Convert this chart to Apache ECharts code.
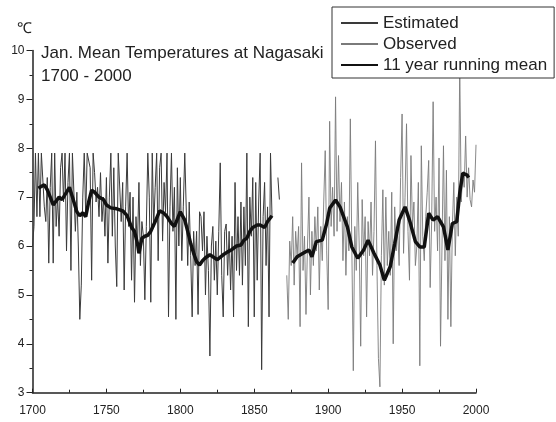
<!DOCTYPE html>
<html><head><meta charset="utf-8">
<script src="https://cdn.jsdelivr.net/npm/echarts@6/dist/echarts.min.js"></script>
<style>html,body{margin:0;padding:0;background:#fff}#c{width:556px;height:422px}</style>
</head><body><div id="c"></div>
<script>
// Estimated January means (annual), 1700-1867 (null = no value)
const estimatedStart = 1700;
const estimated = [
  6.0, 6.4, 7.9, 6.6, 7.9, 6.6, 7.9, 7.9, 6.8, 6.5,
  7.4, 5.65, 7.2, 7.9, 5.65, 7.9, 6.4, 7.0, 6.2, 7.6,
  7.9, 6.9, 7.9, 5.9, 7.3, 7.9, 5.5, 7.9, 7.9, 6.3,
  7.1, 6.0, 4.5, 5.2, 7.0, 7.9, 6.6, 7.9, 7.9, 7.6,
  5.3, 7.9, 7.5, 6.9, 7.2, 6.6, 7.5, 6.5, 7.0, 6.2,
  7.4, 5.65, 7.0, 7.9, 6.2, 7.6, 6.0, 5.17, 7.9, 7.9,
  6.5, 7.3, 5.1, 6.8, 7.9, 6.4, 7.1, 5.3, 7.0, 4.85,
  6.6, 6.0, 7.3, 5.6, 6.5, 6.2, 4.9, 6.4, 7.9, 7.0,
  4.85, 7.9, 6.4, 7.2, 7.9, 5.7, 7.6, 7.9, 6.1, 7.3,
  6.7, 7.9, 4.55, 6.8, 7.9, 6.3, 7.2, 4.5, 7.6, 6.0,
  7.4, 5.7, 6.8, 7.9, 7.9, 5.6, 6.9, 5.8, 4.55, 6.3,
  5.6, 6.3, 4.6, 6.7, 6.6, 5.9, 6.7, 5.0, 6.2, 5.5,
  3.75, 6.0, 6.4, 5.3, 6.1, 5.0, 6.3, 7.7, 5.4, 4.55,
  6.3, 6.45, 5.4, 6.3, 5.1, 6.2, 4.55, 7.3, 5.5, 6.6,
  5.4, 6.9, 5.2, 6.8, 5.6, 7.9, 4.35, 7.0, 6.2, 7.4,
  4.55, 7.3, 5.3, 6.9, 7.9, 3.47, 6.6, 7.3, 5.6, 6.8,
  4.55, 7.9, 6.6, null, null, null, 7.4, 6.95
];
// Observed January means (annual), 1872-2000
const observedStart = 1872;
const observed = [
  5.4, 4.5, 6.1, 5.6, 6.6, 5.2, 6.3, 5.8,
  6.4, 4.35, 7.7, 5.5, 6.2, 4.6, 6.0, 7.0, 5.0, 6.3,
  5.6, 6.6, 5.9, 6.8, 5.1, 6.4, 5.7, 6.9, 7.95, 5.9,
  4.7, 8.55, 6.4, 7.2, 6.2, 9.05, 6.3, 7.85, 6.5, 7.3,
  5.7, 6.9, 5.4, 6.6, 5.9, 8.6, 6.0, 3.45, 6.4, 5.5,
  7.3, 6.0, 3.95, 6.95, 5.8, 6.6, 4.55, 6.5, 5.8, 6.9,
  5.4, 6.3, 8.15, 5.6, 3.7, 3.12, 5.8, 7.15, 5.2, 7.0,
  5.6, 6.3, 5.4, 7.1, 4.0, 6.8, 5.9, 6.3, 5.6, 7.4,
  8.7, 5.85, 7.0, 8.5, 6.3, 5.3, 7.85, 6.4, 6.9, 5.6,
  6.0, 7.3, 3.55, 8.05, 6.2, 5.7, 6.6, 7.1, 7.75, 5.15,
  6.5, 8.95, 6.3, 7.0, 5.9, 7.8, 3.95, 6.0, 8.05, 5.7,
  7.55, 4.5, 6.6, 4.35, 6.4, 7.3, 5.8, 7.0, 6.2, 9.7,
  6.9, 7.5, 7.2, 8.25, 7.0, 7.6, 6.95, 6.8, 7.35, 7.1, 8.07
];
// 11 year running mean
const meanEstYears = [1704,1706,1708,1710,1712,1714,1716,1718,1720,1722,1725,1727,1730,1732,1734,1736,1738,1740,1742,1745,1748,1750,1753,1757,1761,1764,1767,1769,1771,1772,1773,1774,1776,1778,1780,1783,1786,1789,1791,1794,1796,1798,1800,1803,1805,1807,1809,1811,1813,1815,1817,1820,1822,1825,1829,1832,1835,1838,1841,1843,1845,1847,1849,1852,1854,1857,1859,1862];
const meanEstValues = [7.18,7.22,7.25,7.15,7.0,6.84,6.92,7.0,6.95,7.05,7.2,7.0,6.7,6.62,6.68,6.6,6.9,7.14,7.1,7.0,6.95,6.84,6.78,6.76,6.72,6.62,6.38,6.3,6.05,5.85,5.85,6.16,6.2,6.22,6.3,6.5,6.72,6.67,6.6,6.46,6.4,6.55,6.7,6.53,6.3,6.05,5.85,5.68,5.61,5.7,5.76,5.82,5.78,5.72,5.82,5.88,5.93,6.0,6.02,6.12,6.16,6.3,6.38,6.43,6.43,6.38,6.5,6.62];
const meanObsYears = [1876,1879,1883,1887,1889,1892,1896,1899,1901,1905,1908,1913,1916,1920,1924,1927,1931,1935,1938,1942,1945,1948,1952,1955,1959,1962,1965,1968,1971,1974,1978,1981,1984,1987,1989,1991,1994,1995];
const meanObsValues = [5.65,5.78,5.85,5.92,5.78,6.09,6.12,6.46,6.77,6.94,6.80,6.39,5.98,5.75,5.92,6.12,5.85,5.61,5.30,5.58,6.05,6.53,6.80,6.53,6.09,5.98,5.98,6.67,6.53,6.6,6.39,5.92,6.46,6.5,7.08,7.49,7.45,7.4];
const xTickValues = [1700, 1750, 1800, 1850, 1900, 1950, 2000];
const yTickValues = [3, 4, 5, 6, 7, 8, 9, 10];

const FONT = "'Liberation Sans', Arial, sans-serif";
const toPairs = (start, vals) => vals.map((v, i) => [start + i, v]);
const meanData = meanEstYears.map((y, i) => [y, meanEstValues[i]])
  .concat([[1868, null]])
  .concat(meanObsYears.map((y, i) => [y, meanObsValues[i]]));

const chart = echarts.init(document.getElementById('c'), null, {renderer: 'canvas'});
chart.setOption({
  animation: false,
  backgroundColor: '#ffffff',
  textStyle: {fontFamily: FONT},
  title: {
    text: 'Jan. Mean Temperatures at Nagasaki\n1700 - 2000',
    left: 41, top: 42,
    padding: 0,
    textStyle: {fontSize: 17, fontWeight: 'normal', color: '#222', lineHeight: 23, fontFamily: FONT}
  },
  legend: {
    orient: 'vertical',
    left: 332, top: 7,
    padding: [6, 7, 3, 8],
    itemWidth: 37, itemHeight: 14, itemGap: 1,
    borderColor: '#333', borderWidth: 1, borderRadius: 0,
    backgroundColor: '#ffffff',
    itemStyle: {opacity: 0, borderWidth: 0},
    textStyle: {fontSize: 17, color: '#222', lineHeight: 20, fontFamily: FONT},
    data: ['Estimated', 'Observed', '11 year running mean']
  },
  grid: {left: 32.5, right: 80, top: 50.4, bottom: 29.3, containLabel: false},
  xAxis: {
    type: 'value', min: xTickValues[0], max: xTickValues[xTickValues.length - 1], interval: 50,
    axisLine: {show: true, lineStyle: {color: '#222', width: 1.5}},
    axisTick: {show: true, inside: true, length: 4, lineStyle: {color: '#222', width: 1}},
    minorTick: {show: true, splitNumber: 2, length: 3, lineStyle: {color: '#222', width: 1}},
    splitLine: {show: false},
    axisLabel: {fontSize: 12, color: '#222', margin: 12, fontFamily: FONT, formatter: v => String(v)}
  },
  yAxis: {
    type: 'value', min: yTickValues[0], max: yTickValues[yTickValues.length - 1], interval: 1,
    name: '℃', nameLocation: 'end', nameGap: 14,
    nameTextStyle: {fontSize: 15, color: '#222', padding: [0, 16, 0, 0], fontFamily: FONT},
    axisLine: {show: true, lineStyle: {color: '#222', width: 1.5}},
    axisTick: {show: true, inside: false, length: 6, lineStyle: {color: '#222', width: 1}},
    minorTick: {show: true, splitNumber: 2, length: 3, lineStyle: {color: '#222', width: 1}},
    splitLine: {show: false},
    axisLabel: {fontSize: 12, color: '#222', margin: 8, fontFamily: FONT}
  },
  series: [
    {
      name: 'Estimated', type: 'line', data: toPairs(estimatedStart, estimated),
      symbol: 'none', connectNulls: false, z: 2,
      lineStyle: {color: '#3a3a3a', width: 1}, itemStyle: {color: '#3a3a3a'}
    },
    {
      name: 'Observed', type: 'line', data: toPairs(observedStart, observed),
      symbol: 'none', connectNulls: false, z: 2,
      lineStyle: {color: '#7a7a7a', width: 0.9}, itemStyle: {color: '#7a7a7a'}
    },
    {
      name: '11 year running mean', type: 'line', data: meanData,
      symbol: 'none', connectNulls: false, z: 3,
      lineStyle: {color: '#111', width: 3.5}, itemStyle: {color: '#111'}
    }
  ]
});
</script>
</body></html>
